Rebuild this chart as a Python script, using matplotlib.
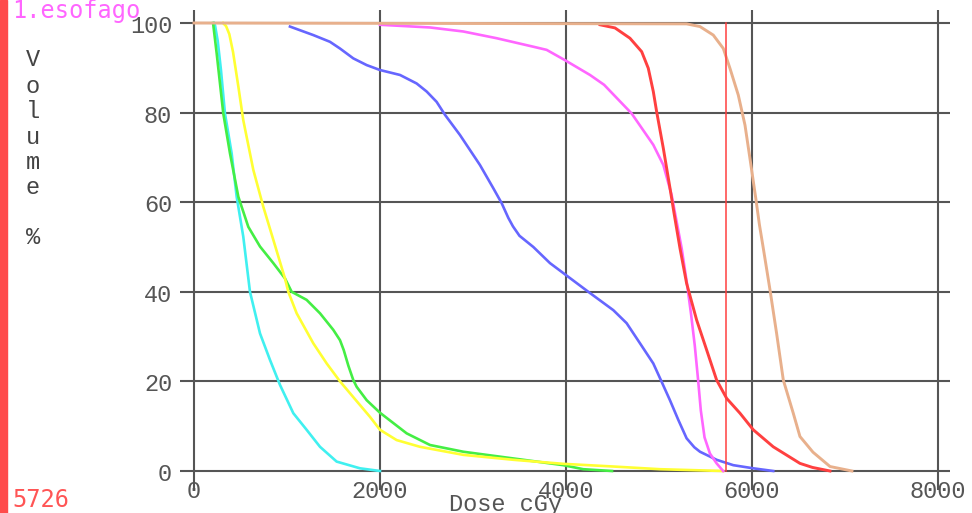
import matplotlib
matplotlib.use("Agg")
import matplotlib.pyplot as plt

# ---------------- data ----------------
cyan_x = [215, 226, 255, 290, 333, 405, 459, 530, 602, 710, 817, 925, 1068, 1211, 1355, 1534, 1785, 2000]
cyan_y = [100, 99.5, 96, 89.5, 79.8, 70.9, 61.2, 52.3, 40, 30.7, 24.8, 19.2, 12.9, 9.2, 5.4, 2.1, 0.6, 0]

green_x = [205, 244, 315, 387, 477, 584, 710, 853, 978, 1050, 1211, 1355, 1498, 1570, 1610, 1660, 1713,
           1749, 1857, 2000, 2287, 2538, 2896, 3434, 3971, 4186, 4495]
green_y = [100, 93.2, 79.8, 70.9, 61.2, 54.5, 50.1, 46.4, 43, 40, 38.2, 35.2, 31.5, 29.2, 27, 23.5, 20.3,
           18.8, 15.8, 13.0, 8.4, 5.8, 4.3, 2.8, 1.3, 0.4, 0]

yellow_x = [312, 345, 380, 420, 477, 530, 638, 745, 853, 978, 1014, 1104, 1283, 1427, 1570, 1749, 1892,
            2000, 2179, 2430, 2896, 3434, 3971, 4509, 5011, 5690]
yellow_y = [100, 99.3, 97.5, 93.5, 85.8, 78.3, 67.2, 59, 51.6, 43, 40, 35.2, 28.5, 24, 20, 15.6, 12.1,
            9.2, 6.9, 5.4, 3.6, 2.5, 1.6, 1.0, 0.4, 0]

blue_x = [1032, 1283, 1462, 1570, 1713, 1857, 2000, 2215, 2394, 2502, 2609, 2699, 2860, 3075, 3219,
          3308, 3380, 3430, 3500, 3649, 3828, 3989, 4240, 4509, 4652, 4796, 4939, 5029, 5118, 5208, 5297,
          5380, 5441, 5620, 5799, 6014, 6229]
blue_y = [99.2, 97.3, 95.8, 94.3, 92.1, 90.6, 89.5, 88.4, 86.5, 84.7, 82.4, 79.5, 75, 68.3, 63.1,
          59.8, 56.5, 54.6, 52.5, 50.0, 46.4, 43.9, 40, 35.9, 33, 28.5, 24, 19.9, 15.8, 11.4, 7.3,
          5.3, 4.3, 2.5, 1.3, 0.6, 0]

magenta_x = [2000, 2538, 2896, 3254, 3649, 3792, 3989, 4258, 4410, 4706, 4939, 5047, 5136, 5244,
             5300, 5345, 5385, 5420, 5450, 5490, 5548, 5620, 5690]
magenta_y = [99.6, 99, 98.1, 96.6, 94.7, 94, 91.7, 88.4, 86.2, 79.8, 72.8, 68.3, 61.6, 49.7,
             42, 35, 28, 20.5, 13.5, 7.5, 3.9, 1.7, 0]

red_x = [4366, 4527, 4688, 4814, 4885, 4939, 4975, 5047, 5118, 5160, 5226, 5297, 5405, 5513, 5620,
         5728, 5871, 6014, 6229, 6516, 6650, 6839]
red_y = [99.6, 98.9, 96.6, 93.6, 89.9, 84.7, 80.2, 72, 63.2, 57.8, 49.7, 41.9, 33.7, 27, 20.3,
         16.2, 12.9, 9.2, 5.4, 1.7, 0.8, 0]

tan_x = [0, 5297, 5441, 5584, 5692, 5763, 5853, 5925, 5978, 6040, 6080, 6122, 6194, 6265, 6337,
         6444, 6516, 6656, 6839, 7075]
tan_y = [100, 99.8, 99.2, 97.3, 94.3, 89.9, 83.9, 77.2, 69.8, 61, 55, 49.7, 40.4, 30.7, 20.3,
         12.9, 7.7, 4.2, 1, 0]

marker_dose = 5726
x_ticks = [0, 2000, 4000, 6000, 8000]
y_ticks = [0, 20, 40, 60, 80, 100]
structure_label = "1.esofago"
ylabel_chars = ["V", "o", "l", "u", "m", "e", "", "%"]
xlabel = "Dose cGy"

# ---------------- figure ----------------
fig = plt.figure(figsize=(9.72, 5.13), dpi=100)
ax = fig.add_axes([0, 0, 1, 1])
ax.set_xlim(-2086, 8366)
ax.set_ylim(-9.375, 105.13)
ax.axis("off")

grid_c = "#555555"
for yt in y_ticks:
    ax.plot([-150, 8130], [yt, yt], color=grid_c, lw=1.5, zorder=1, solid_capstyle="butt")
for xt in x_ticks:
    ax.plot([xt, xt], [-4.2, 102.9], color=grid_c, lw=1.5, zorder=1, solid_capstyle="butt")

lw = 1.9
ax.plot(cyan_x, cyan_y, color="#40F0F0", lw=lw, zorder=3)
ax.plot(green_x, green_y, color="#44EE44", lw=lw, zorder=3)
ax.plot(yellow_x, yellow_y, color="#FFFF33", lw=lw, zorder=3)
ax.plot(blue_x, blue_y, color="#6666FF", lw=lw, zorder=3)
ax.plot(magenta_x, magenta_y, color="#FF66FF", lw=lw, zorder=3)
ax.plot(red_x, red_y, color="#FF4040", lw=lw + 0.2, zorder=3)
ax.plot(tan_x, tan_y, color="#E8B08C", lw=lw + 0.2, zorder=4)

ax.plot([marker_dose, marker_dose], [0, 100], color="#FF4040", lw=1.1, zorder=5)

# left red bar
fig.patches.append(plt.Rectangle((0, 0), 6.5 / 972, 1, transform=fig.transFigure,
                                 color="#FF4B4B", zorder=0))

mono = "Liberation Mono"
tc = "#555555"
for yt in y_ticks:
    ax.text(-235, yt - 0.8, str(yt), ha="right", va="center", fontsize=17,
            family=mono, color=tc)
for xt in x_ticks:
    ax.text(xt, -4.6, str(xt), ha="center", va="center", fontsize=17,
            family=mono, color=tc)
ax.text(3355, -7.4, xlabel, ha="center", va="center", fontsize=17, family=mono, color=tc)

py_list = [60, 87, 112, 138, 163, 188, 213, 238]
for ch, py in zip(ylabel_chars, py_list):
    if ch:
        ax.text((33 - 194) / 0.093, (471 - py) / 4.48, ch, ha="center", va="center",
                fontsize=17, family=mono, color="#444444")

fig.text(12 / 972, 1 - 11 / 513, structure_label, ha="left", va="center", fontsize=17,
         family="DejaVu Sans Mono", color="#FF66FF")
fig.text(12 / 972, 1 - 500 / 513, str(marker_dose), ha="left", va="center", fontsize=17,
         family="DejaVu Sans Mono", color="#FF5555")

fig.savefig("out.png", dpi=100)
